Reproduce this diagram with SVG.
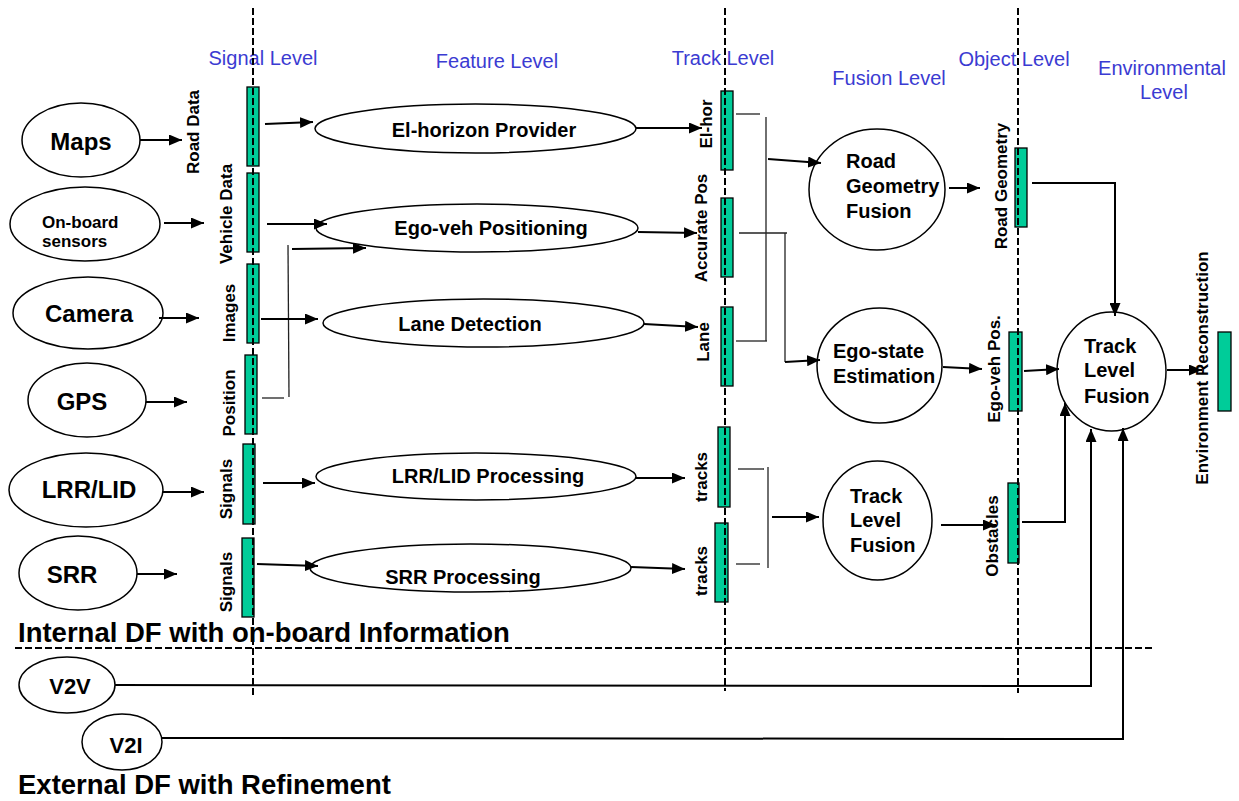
<svg xmlns="http://www.w3.org/2000/svg" width="1239" height="801" viewBox="0 0 1239 801">
  <style>
    .lvl { font-family: "Liberation Sans", Arial, sans-serif; font-size: 20px; fill: #3B3BD2; text-anchor: middle; }
    .src { font-family: "Liberation Sans", Arial, sans-serif; font-size: 24px; font-weight: bold; fill: #000; text-anchor: middle; }
    .small { font-family: "Liberation Sans", Arial, sans-serif; font-size: 17px; font-weight: bold; fill: #000; }
    .proc { font-family: "Liberation Sans", Arial, sans-serif; font-size: 20px; font-weight: bold; fill: #000; text-anchor: middle; }
    .fus { font-family: "Liberation Sans", Arial, sans-serif; font-size: 20px; font-weight: bold; fill: #000; }
    .bl { font-family: "Liberation Sans", Arial, sans-serif; font-size: 17px; font-weight: bold; fill: #000; text-anchor: middle; }
    .title { font-family: "Liberation Sans", Arial, sans-serif; font-size: 27.5px; font-weight: bold; fill: #000; }
    .shape { fill: #fff; stroke: #000; stroke-width: 1.5; }
    .bar { fill: #00CC99; stroke: #000; stroke-width: 1.3; }
    .axis { fill: none; stroke: #000; stroke-width: 2; stroke-dasharray: 7 3; }
    .arrow { fill: none; stroke: #000; stroke-width: 2; marker-end: url(#head); }
    .thin { fill: none; stroke: #222; stroke-width: 1.3; }
  </style>
  <defs>
    <marker id="head" markerUnits="userSpaceOnUse" markerWidth="13" markerHeight="11" refX="13" refY="5.5" orient="auto">
      <path d="M0,0 L13,5.5 L0,11 z" fill="#000"/>
    </marker>
  </defs>

  <rect width="1239" height="801" fill="#fff"/>

  <!-- level headings -->
  <g id="levels">
    <text class="lvl" x="263" y="65">Signal Level</text>
    <text class="lvl" x="497" y="68">Feature Level</text>
    <text class="lvl" x="723" y="65">Track Level</text>
    <text class="lvl" x="889" y="85">Fusion Level</text>
    <text class="lvl" x="1014" y="66">Object Level</text>
    <text class="lvl" x="1162" y="75">Environmental</text>
    <text class="lvl" x="1164" y="99">Level</text>
  </g>

  <!-- data bars -->
  <g id="signal-bars">
    <rect class="bar" x="247" y="87" width="12" height="79"/>
    <rect class="bar" x="247" y="173" width="12" height="79"/>
    <rect class="bar" x="247" y="264" width="12" height="79"/>
    <rect class="bar" x="245" y="355" width="12" height="79"/>
    <rect class="bar" x="243" y="444" width="12" height="80"/>
    <rect class="bar" x="242" y="538" width="12" height="79"/>
    <text class="bl" transform="translate(199,132) rotate(-90)">Road Data</text>
    <text class="bl" transform="translate(232,214) rotate(-90)">Vehicle Data</text>
    <text class="bl" transform="translate(235,313) rotate(-90)">Images</text>
    <text class="bl" transform="translate(235,403) rotate(-90)">Position</text>
    <text class="bl" transform="translate(232,489) rotate(-90)">Signals</text>
    <text class="bl" transform="translate(232,582) rotate(-90)">Signals</text>
  </g>
  <g id="track-bars">
    <rect class="bar" x="721" y="91" width="12" height="79"/>
    <rect class="bar" x="721" y="198" width="12" height="79"/>
    <rect class="bar" x="721" y="307" width="12" height="79"/>
    <rect class="bar" x="718" y="427" width="12" height="80"/>
    <rect class="bar" x="715" y="523" width="13" height="79"/>
    <text class="bl" transform="translate(712,124) rotate(-90)">El-hor</text>
    <text class="bl" transform="translate(707,228) rotate(-90)">Accurate Pos</text>
    <text class="bl" transform="translate(709,342) rotate(-90)">Lane</text>
    <text class="bl" transform="translate(707,477) rotate(-90)">tracks</text>
    <text class="bl" transform="translate(707,571) rotate(-90)">tracks</text>
  </g>
  <g id="object-bars">
    <rect class="bar" x="1015" y="148" width="12" height="79"/>
    <rect class="bar" x="1009" y="332" width="13" height="79"/>
    <rect class="bar" x="1008" y="483" width="11" height="80"/>
    <text class="bl" transform="translate(1007,186) rotate(-90)">Road Geometry</text>
    <text class="bl" transform="translate(1000,369) rotate(-90)">Ego-veh Pos.</text>
    <text class="bl" transform="translate(998,536) rotate(-90)">Obstacles</text>
  </g>
  <g id="environment-bar">
    <rect class="bar" x="1218" y="332" width="13" height="79"/>
    <text class="bl" transform="translate(1208,368) rotate(-90)">Environment Reconstruction</text>
  </g>

  <!-- level separators and the internal/external divider -->
  <g id="separators">
    <line class="axis" x1="253" y1="8" x2="253" y2="695"/>
    <line class="axis" x1="725" y1="8" x2="725" y2="691"/>
    <line class="axis" x1="1018" y1="8" x2="1018" y2="693"/>
    <line class="axis" x1="15" y1="648" x2="1153" y2="648"/>
  </g>

  <!-- sources -->
  <g id="maps"><ellipse class="shape" cx="81" cy="140" rx="59" ry="37"/><text class="src" x="81" y="150">Maps</text></g>
  <g id="onboard"><ellipse class="shape" cx="85" cy="224" rx="75" ry="37"/><text class="small" x="42" y="228">On-board</text><text class="small" x="42" y="247">sensors</text></g>
  <g id="camera"><ellipse class="shape" cx="88" cy="313" rx="75" ry="36"/><text class="src" x="89" y="322">Camera</text></g>
  <g id="gps"><ellipse class="shape" cx="87" cy="400" rx="59" ry="37"/><text class="src" x="82" y="410">GPS</text></g>
  <g id="lrr"><ellipse class="shape" cx="86" cy="490" rx="77" ry="37"/><text class="src" x="89" y="498">LRR/LID</text></g>
  <g id="srr"><ellipse class="shape" cx="78" cy="573" rx="59" ry="37"/><text class="src" x="72" y="583">SRR</text></g>
  <g id="v2v"><ellipse class="shape" cx="67" cy="685" rx="48" ry="28"/><text class="src" x="70" y="694" style="font-size:22px">V2V</text></g>
  <g id="v2i"><ellipse class="shape" cx="122" cy="742" rx="40" ry="28"/><text class="src" x="126" y="753" style="font-size:22px">V2I</text></g>

  <!-- feature-level processing -->
  <g id="elhorizon"><ellipse class="shape" cx="475.5" cy="128.5" rx="160.5" ry="24.5"/><text class="proc" x="484" y="137">El-horizon Provider</text></g>
  <g id="egoveh"><ellipse class="shape" cx="477" cy="228" rx="161" ry="24"/><text class="proc" x="491" y="235">Ego-veh Positioning</text></g>
  <g id="lane"><ellipse class="shape" cx="483.5" cy="323" rx="160.5" ry="24"/><text class="proc" x="470" y="331">Lane Detection</text></g>
  <g id="lrrproc"><ellipse class="shape" cx="476" cy="476.5" rx="160" ry="23.5"/><text class="proc" x="488" y="483">LRR/LID Processing</text></g>
  <g id="srrproc"><ellipse class="shape" cx="470.5" cy="568" rx="160.5" ry="24"/><text class="proc" x="463" y="584">SRR Processing</text></g>

  <!-- fusion -->
  <g id="roadgeo"><ellipse class="shape" cx="877" cy="189.5" rx="68" ry="60.5"/><text class="fus" x="846" y="168">Road</text><text class="fus" x="846" y="193">Geometry</text><text class="fus" x="846" y="218">Fusion</text></g>
  <g id="egostate"><ellipse class="shape" cx="879.5" cy="365.5" rx="62.5" ry="57.5"/><text class="fus" x="833" y="358">Ego-state</text><text class="fus" x="833" y="383">Estimation</text></g>
  <g id="trackfusion"><ellipse class="shape" cx="877.5" cy="520.5" rx="54.5" ry="59.5"/><text class="fus" x="850" y="503">Track</text><text class="fus" x="850" y="527">Level</text><text class="fus" x="850" y="552">Fusion</text></g>
  <g id="trackfusion-env"><ellipse class="shape" cx="1111.5" cy="371.5" rx="54.5" ry="59.5"/><text class="fus" x="1084" y="353">Track</text><text class="fus" x="1084" y="377">Level</text><text class="fus" x="1084" y="403">Fusion</text></g>

  <!-- connectors -->
  <g id="connectors">
    <!-- sources to signal bars -->
    <line class="arrow" x1="140" y1="140" x2="182" y2="140"/>
    <line class="arrow" x1="164" y1="223" x2="204" y2="223"/>
    <line class="arrow" x1="159" y1="318" x2="199" y2="318"/>
    <line class="arrow" x1="146" y1="402" x2="187" y2="402"/>
    <line class="arrow" x1="163" y1="492" x2="204" y2="492"/>
    <line class="arrow" x1="137" y1="574" x2="177" y2="574"/>

    <!-- signal bars to feature processing -->
    <line class="arrow" x1="265" y1="124" x2="313" y2="122"/>
    <line class="arrow" x1="267" y1="224" x2="327" y2="224"/>
    <polyline class="thin" points="262,398 284,398"/>
    <line class="thin" x1="288" y1="245" x2="289" y2="397"/>
    <line class="arrow" x1="292" y1="249" x2="366" y2="248"/>
    <line class="arrow" x1="261" y1="319" x2="318" y2="319"/>
    <line class="arrow" x1="263" y1="483" x2="315" y2="483"/>
    <line class="arrow" x1="257" y1="564" x2="318" y2="566"/>

    <!-- feature processing to track bars -->
    <line class="arrow" x1="636" y1="128" x2="702" y2="128"/>
    <line class="arrow" x1="638" y1="232" x2="697" y2="233"/>
    <line class="arrow" x1="644" y1="324" x2="698" y2="327"/>
    <line class="arrow" x1="636" y1="478" x2="685" y2="478"/>
    <line class="arrow" x1="631" y1="567" x2="685" y2="569"/>

    <!-- track bars to fusion -->
    <line class="thin" x1="736" y1="114" x2="760" y2="114"/>
    <line class="thin" x1="766" y1="117" x2="766" y2="341"/>
    <line class="thin" x1="736" y1="341" x2="767" y2="341"/>
    <line class="arrow" x1="768" y1="159" x2="821" y2="163"/>
    <line class="thin" x1="739" y1="233" x2="787" y2="233"/>
    <line class="thin" x1="785" y1="233" x2="785" y2="362"/>
    <line class="arrow" x1="785" y1="362" x2="820" y2="360"/>
    <line class="thin" x1="738" y1="469" x2="764" y2="469"/>
    <line class="thin" x1="736" y1="564" x2="760" y2="564"/>
    <line class="thin" x1="768" y1="467" x2="768" y2="568"/>
    <line class="arrow" x1="772" y1="517" x2="819" y2="517"/>

    <!-- fusion to object bars -->
    <line class="arrow" x1="949" y1="188" x2="980" y2="188"/>
    <line class="arrow" x1="943" y1="367" x2="982" y2="369"/>
    <line class="arrow" x1="941" y1="525" x2="996" y2="525"/>

    <!-- object bars to environment fusion -->
    <polyline class="arrow" points="1032,183 1115,183 1115,316"/>
    <line class="arrow" x1="1024" y1="371" x2="1059" y2="369"/>
    <polyline class="arrow" points="1022,522 1065,522 1065,403"/>
    <line class="arrow" x1="1167" y1="370" x2="1202" y2="370"/>

    <!-- external sources -->
    <polyline class="arrow" points="115,685 1091,686 1091,429"/>
    <polyline class="arrow" points="162,738 1123,739 1123,428"/>
  </g>

  <!-- section captions -->
  <g id="captions">
    <text class="title" x="18" y="642">Internal DF with on-board Information</text>
    <text class="title" x="18" y="794">External DF with Refinement</text>
  </g>
</svg>
